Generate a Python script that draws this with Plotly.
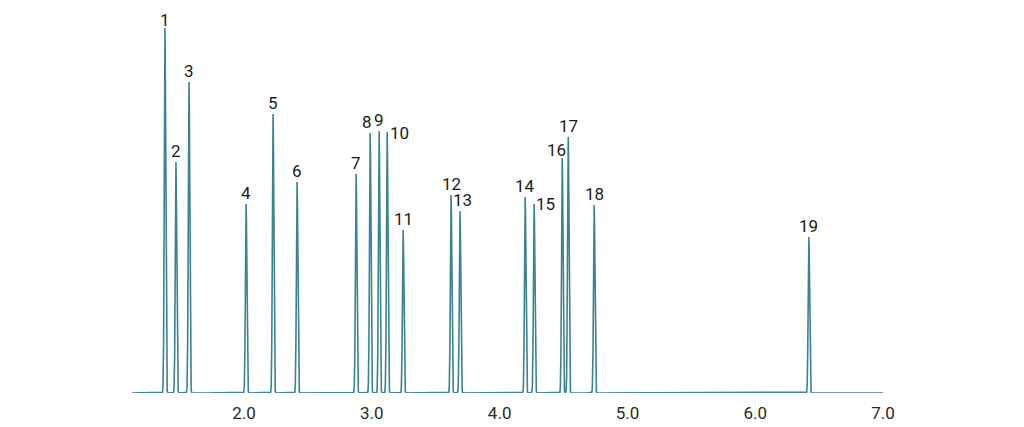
import numpy as np
import plotly.graph_objects as go

# Peak data
peak_labels = [str(i) for i in range(1, 20)]
retention_times = [1.381, 1.467, 1.569, 2.016, 2.227, 2.415, 2.877, 2.987, 3.057, 3.120,
                   3.245, 3.620, 3.690, 4.200, 4.270, 4.490, 4.537, 4.740, 6.420]
peak_heights = [365, 231, 311, 189, 279, 211, 219, 260, 262, 261,
                163, 198, 182, 196, 189, 235, 256, 188, 156]
tick_values = [2.0, 3.0, 4.0, 5.0, 6.0, 7.0]
tick_labels = ["2.0", "3.0", "4.0", "5.0", "6.0", "7.0"]
x_start, x_end = 1.123, 7.0

FONT = "Roboto, Liberation Sans Narrow, sans-serif"

# label placement (style): (xshift px, yshift px, anchor)
label_style = {
    "1": (0, -3, "center"),
    "8": (-3, 0, "center"),
    "10": (2, -12, "left"),
    "13": (2, 0, "center"),
    "15": (1, -11, "left"),
    "16": (-6, -3, "center"),
}

sigma = 0.0055
t = np.arange(x_start, x_end + 0.0005, 0.0005)
signal = np.zeros_like(t)
for rt, h in zip(retention_times, peak_heights):
    signal += h * np.exp(-0.5 * ((t - rt) / sigma) ** 2)

fig = go.Figure()
fig.add_trace(go.Scatter(x=t, y=signal, mode="lines",
                         line=dict(color="#3b8292", width=1.6),
                         hoverinfo="skip", showlegend=False))

for lab, rt, h in zip(peak_labels, retention_times, peak_heights):
    xs, ys, anc = label_style.get(lab, (0, 0, "center"))
    fig.add_annotation(x=rt, y=h, text=lab, showarrow=False, borderpad=0,
                       xanchor=anc, yanchor="bottom", xshift=xs, yshift=ys,
                       font=dict(family=FONT, size=17, color="#1a1a1a"))

fig.update_layout(
    width=1024, height=427,
    margin=dict(l=124, r=149, t=0, b=42),
    paper_bgcolor="white", plot_bgcolor="white",
    xaxis=dict(range=[x_start, x_end], tickvals=tick_values, ticktext=tick_labels,
               showgrid=False, zeroline=False, showline=False,
               ticks="outside", ticklen=5, tickcolor="rgba(0,0,0,0)",
               tickfont=dict(family=FONT, size=17, color="#2a2a2a")),
    yaxis=dict(range=[0, 385], visible=False, showgrid=False, zeroline=False),
)

fig.write_html("out.html")
